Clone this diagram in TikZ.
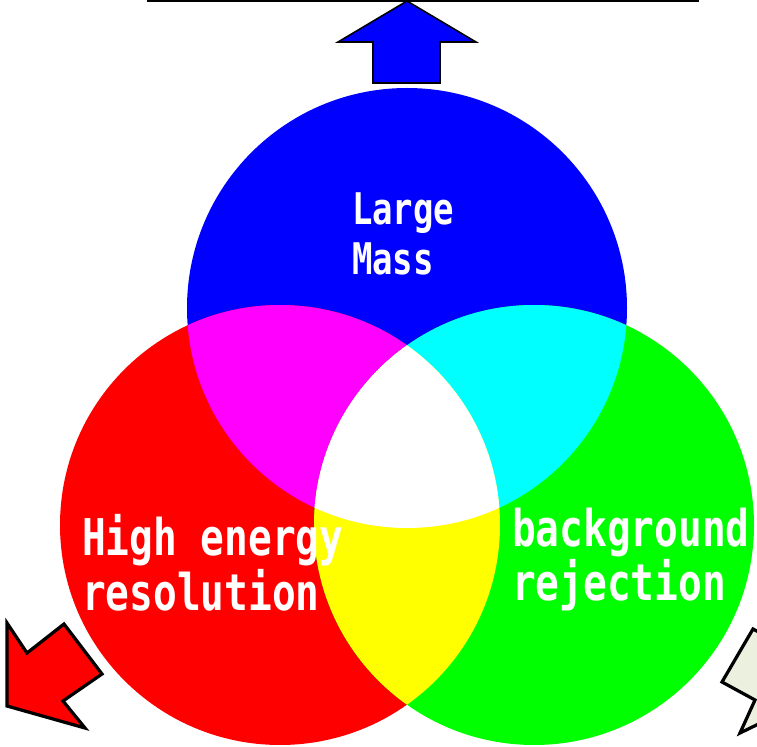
\documentclass[tikz,border=0pt]{standalone}
\usepackage{fontspec}
\newfontfamily\vennfont{DejaVu Sans Mono}[FakeStretch=0.78]
\definecolor{lightred}{RGB}{255,0,0}
\definecolor{lightgreen}{RGB}{0,255,0}
\definecolor{lightblue}{RGB}{0,0,255}
\definecolor{lightmagenta}{RGB}{255,0,255}
\definecolor{lightcyan}{RGB}{0,255,255}
\definecolor{lightyellow}{RGB}{255,255,0}
\definecolor{paleolive}{RGB}{235,241,222}
\begin{document}
\begin{tikzpicture}[
    x=0.025cm, y=-0.025cm,
    every node/.style={text=white, inner sep=0pt, outer sep=0pt},
    vennlabel/.style={align=left, anchor=base west, font=\vennfont\bfseries},
    bigarrow/.style={draw=black, line width=2.3pt, line join=miter}
]
    \clip (0,0) rectangle (757,747);

    % --- THE THREE CIRCLES ---

    % Centres
    \coordinate (B) at (407,308);   % Large Mass
    \coordinate (R) at (280,525);   % energy resolution
    \coordinate (G) at (534,525);   % background rejection

    \fill[lightblue] (B) circle (220);
    \fill[lightred] (R) circle (220);
    \fill[lightgreen] (G) circle (220);

    % Overlaps, mixed as light
    \begin{scope}
        \clip (B) circle (220);
        \fill[lightmagenta] (R) circle (220);
        \fill[lightcyan] (G) circle (220);
    \end{scope}
    \begin{scope}
        \clip (R) circle (220);
        \fill[lightyellow] (G) circle (220);
        \clip (G) circle (220);
        \fill[white] (B) circle (220);
    \end{scope}

    % Labels (base = last line)
    \node[vennlabel, font=\vennfont\bfseries\fontsize{31}{35.6}\selectfont]
        (mass) at (352,275) {Large\\Mass};
    \node[vennlabel, font=\vennfont\bfseries\fontsize{36}{39}\selectfont]
        (resol) at (82,610) {High energy\\resolution};
    \node[vennlabel, font=\vennfont\bfseries\fontsize{36}{37.7}\selectfont]
        (backg) at (512,600) {background\\rejection};

    % --- BAR AND ARROWS ---

    \coordinate (barL) at (147,1);
    \coordinate (barR) at (699,1);
    \draw[line width=1.4pt] (barL) -- (barR);

    % Up arrow (blue)
    \draw[bigarrow, line width=1.1pt, fill=lightblue]
        (407,1) -- (476,42) -- (440,42) -- (440,83)
        -- (373,83) -- (373,42) -- (338,42) -- cycle;

    % Down-left arrow (red)
    \draw[bigarrow, fill=lightred]
        (7,623) -- (27,653) -- (64,624) -- (102,674)
        -- (63,701) -- (85,728) -- (7,706) -- cycle;

    % Down-right arrow (pale, cut by the edge)
    \draw[bigarrow, fill=paleolive]
        (753,629) -- (722,682) -- (755,700) -- (740,733)
        -- (812,698) -- (802,617) -- (786,647) -- cycle;

\end{tikzpicture}
\end{document}
